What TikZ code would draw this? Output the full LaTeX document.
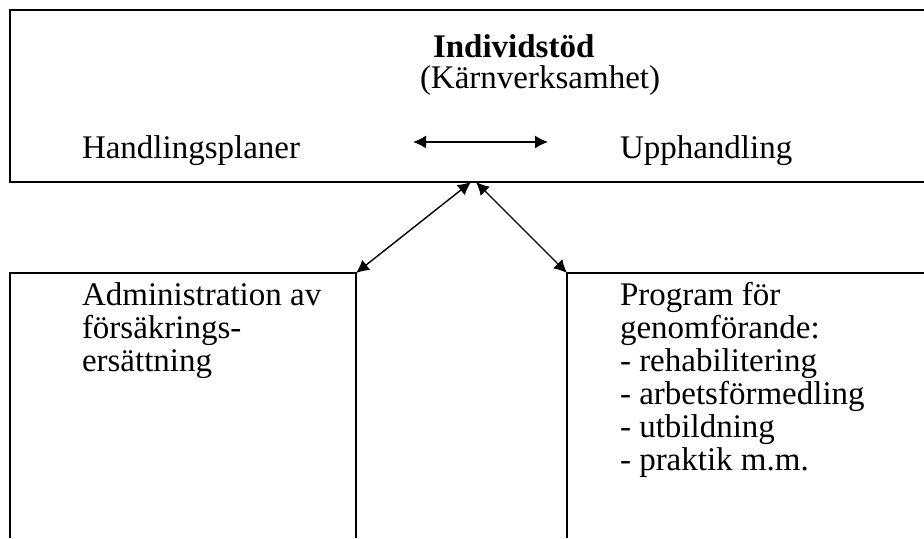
\documentclass[tikz,border=0pt]{standalone}
\usepackage{fontspec}
\setmainfont{Liberation Serif}
\usepackage{tikz}
\usetikzlibrary{arrows.meta}
\usetikzlibrary{math}

\begin{document}
\begin{tikzpicture}[x=0.5pt,y=-0.5pt,line width=1pt,
    every node/.style={inner sep=0pt,font=\fontsize{16.5}{16.5}\selectfont},
    txt/.style={anchor=base west},
    link/.style={line width=0.7pt,{Latex[length=6.5pt,width=6.5pt]}-{Latex[length=6.5pt,width=6.5pt]}}]

  \tikzmath{
    \rowgap = 33;  % distance between two lines of text
    \first  = 305; % baseline of the first line in the lower boxes
  }

  \useasboundingbox (0,0) rectangle (924,538);

  % Corners of the boxes
  \coordinate (TR) at (924, 10);
  \coordinate (TL) at (10, 10);
  \coordinate (BL) at (10, 182);
  \coordinate (BR) at (924, 182);
  \coordinate (LA) at (10, 538);
  \coordinate (LB) at (10, 273);
  \coordinate (LC) at (356, 273);
  \coordinate (LD) at (356, 538);
  \coordinate (RA) at (924, 273);
  \coordinate (RB) at (567, 273);
  \coordinate (RC) at (567, 538);

  % Boxes, open at the edges of the page
  \draw (TR) -- (TL) -- (BL) -- (BR);
  \draw (LA) -- (LB) -- (LC) -- (LD);
  \draw (RA) -- (RB) -- (RC);

  % Top box
  \node[txt] (core) at (432, 57) {\textbf{Individstöd}};
  \node[txt] (kern) at (419, 88) {(Kärnverksamhet)};
  \node[txt] (plan) at (81, 158) {Handlingsplaner};
  \node[txt] (buy) at (619, 158) {Upphandling};

  % Arrow between the two activities
  \coordinate (HL) at (413, 142);
  \coordinate (HR) at (548, 142);
  \draw[link] (HL) -- (HR);

  % Arrows to the lower boxes
  \coordinate (XL) at (471, 182);
  \coordinate (XR) at (476, 182);
  \draw[link] (XL) -- (LC);
  \draw[link] (XR) -- (RB);

  % Left box
  \foreach \line [count=\i] in {Administration av, försäkrings-, ersättning}
    \node[txt] (adm\i) at (81, {\first+\rowgap*(\i-1)}) {\line};

  % Right box
  \foreach \line [count=\i] in {Program för, genomförande:, - rehabilitering,
      - arbetsförmedling, - utbildning, - praktik m.m.}
    \node[txt] (prg\i) at (619, {\first+\rowgap*(\i-1)}) {\line};

\end{tikzpicture}
\end{document}
